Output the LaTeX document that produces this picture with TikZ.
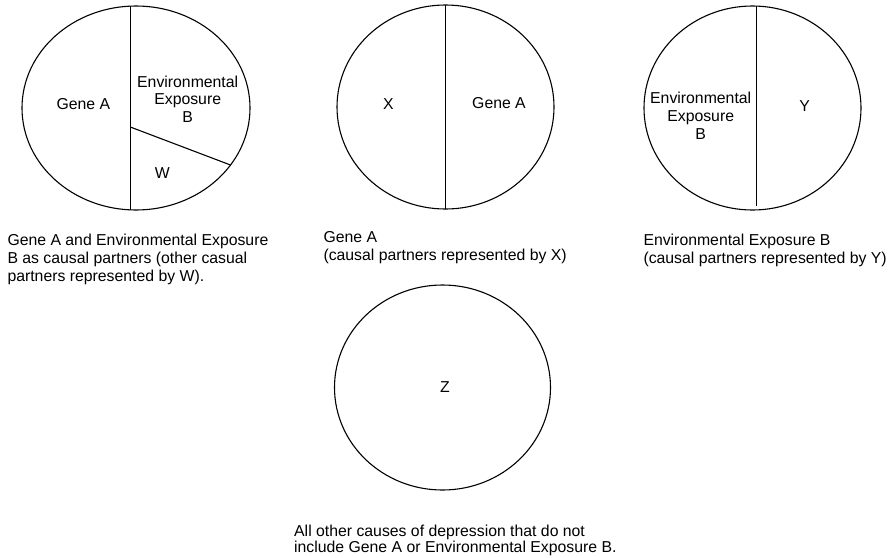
\documentclass[tikz,border=0pt]{standalone}
\usepackage{fontspec}
\setmainfont{Liberation Sans}
\usetikzlibrary{calc}
\begin{document}
\begin{tikzpicture}[x=1pt,y=-1pt,
  pie/.style={draw=black,line width=1.1pt},
  cutline/.style={draw=black,line width=1.1pt},
  lbl/.style={inner sep=0pt,anchor=base,align=center,font=\fontsize{15.8}{17.9}\selectfont},
  captxt/.style={inner sep=0pt,anchor=base west,align=left,font=\fontsize{15.8}{17.7}\selectfont},
  captxtb/.style={inner sep=0pt,anchor=base west,align=left,font=\fontsize{15.8}{16.2}\selectfont}]
\useasboundingbox (0,0) rectangle (894,557);
% circle 1
\begin{scope}
  \clip (136,108) ellipse [x radius=114, y radius=102];
  \draw[cutline] (130.3,0) -- (130.3,220);
  \draw[cutline] (130.3,127) -- ($(130.3,127)!1.3!(230.5,165)$);
\end{scope}
\draw[pie] (136,108) ellipse [x radius=114, y radius=102];
% circle 2
\begin{scope}
  \clip (445.5,107) ellipse [x radius=108.5, y radius=102];
  \draw[cutline] (445.7,0) -- (445.7,220);
\end{scope}
\draw[pie] (445.5,107) ellipse [x radius=108.5, y radius=102];
% circle 3
\begin{scope}
  \clip (752.5,108) ellipse [x radius=108.5, y radius=102];
  \draw[cutline] (756.3,0) -- (756.3,206);
\end{scope}
\draw[pie] (752.5,108) ellipse [x radius=108.5, y radius=102];
% circle 4
\draw[pie] (442.5,387.5) ellipse [x radius=108, y radius=102.5];
% labels (base = baseline of last line)
\node[lbl] (geneA1) at (83.3,109.3) {Gene A};
\node[lbl] (envB1) at (187.7,122.8) {Environmental\\Exposure\\B};
\node[lbl] (w) at (162.3,178.3) {W};
\node[lbl] (x) at (388.3,109.3) {X};
\node[lbl] (geneA2) at (499,108.7) {Gene A};
\node[lbl] (envB3) at (700.7,139) {Environmental\\Exposure\\B};
\node[lbl] (y) at (804.7,111.7) {Y};
\node[lbl] (z) at (445,392.3) {Z};
% captions
\node[captxt] (cap1) at (7.3,281.1) {Gene A and Environmental Exposure\\B as causal partners (other casual\\partners represented by W).};
\node[captxt] (cap2) at (323.3,260) {Gene A\\(causal partners represented by X)};
\node[captxt] (cap3) at (643.3,263.4) {Environmental Exposure B\\(causal partners represented by Y)};
\node[captxtb] (cap4) at (294,552.2) {All other causes of depression that do not\\include Gene A or Environmental Exposure B.};
\end{tikzpicture}
\end{document}
